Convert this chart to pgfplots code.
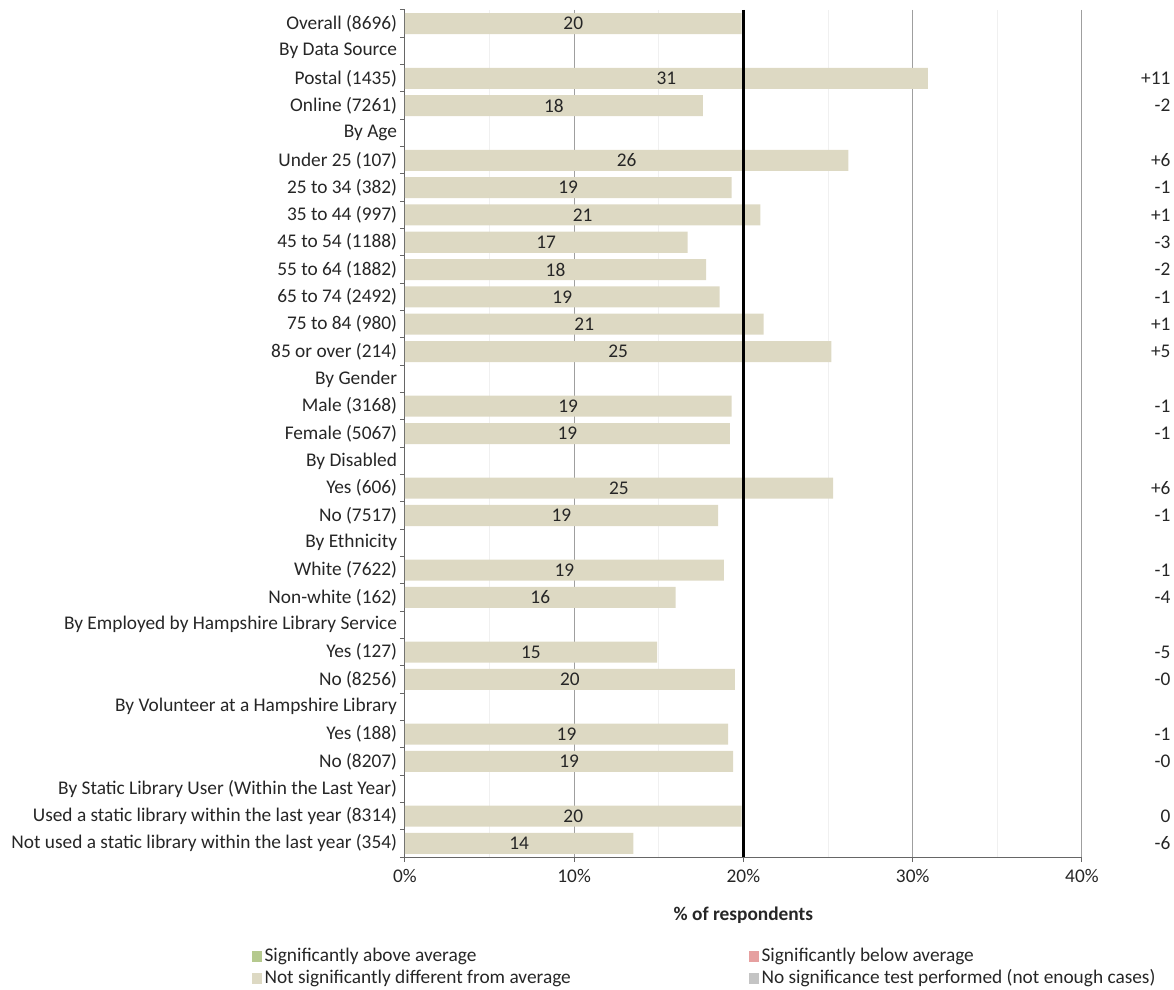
\documentclass[border=0pt]{standalone}
\usepackage{fontspec}
\setmainfont{Carlito}
\usepackage{pgfplots}
\usepackage{pgfplotstable}
\pgfplotsset{compat=1.18}
\definecolor{barc}{HTML}{DDD9C3}
\definecolor{gsig}{HTML}{B5C98E}
\definecolor{rsig}{HTML}{E6A0A0}
\definecolor{nsig}{HTML}{DDD9C3}
\definecolor{ntest}{HTML}{C4C4C4}
\definecolor{txt}{HTML}{262626}

\pgfplotstableread{
y v lab
0 19.9 20
2 30.9 31
3 17.6 18
5 26.2 26
6 19.3 19
7 21.0 21
8 16.7 17
9 17.8 18
10 18.6 19
11 21.2 21
12 25.2 25
14 19.3 19
15 19.2 19
17 25.3 25
18 18.5 19
20 18.85 19
21 16.0 16
23 14.9 15
24 19.5 20
26 19.1 19
27 19.4 19
29 19.9 20
30 13.5 14
}\bars

\pgfplotstableread{
y d
2 +11
3 -2
5 +6
6 -1
7 +1
8 -3
9 -2
10 -1
11 +1
12 +5
14 -1
15 -1
17 +6
18 -1
20 -1
21 -4
23 -5
24 -0
26 -1
27 -0
29 0
30 -6
}\diffs

\begin{document}
\fontsize{11.6}{14}\selectfont
\begin{tikzpicture}
\begin{axis}[
  scale only axis,
  width=406.2pt, height=508.2pt,
  xmin=0, xmax=40, ymin=-0.5, ymax=30.5,
  y dir=reverse,
  clip=false,
  axis x line*=bottom, axis y line*=left,
  axis line style={gray!80!black, line width=0.6pt},
  tick align=outside,
  major tick length=3pt,
  minor tick length=0pt,
  tick style={gray!80!black, line width=0.6pt},
  xtick={0,10,20,30,40},
  xticklabel={\pgfmathprintnumber{\tick}\%},
  /pgf/number format/assume math mode=true,
  minor x tick num=1,
  xmajorgrids, xminorgrids,
  major grid style={gray!75, line width=0.6pt},
  minor grid style={gray!12, line width=0.6pt},
  ytick={-0.5,0.5,...,30.5},
  yticklabels={Overall (8696),By Data Source,Postal (1435),Online (7261),By Age,Under 25 (107),25 to 34 (382),35 to 44 (997),45 to 54 (1188),55 to 64 (1882),65 to 74 (2492),75 to 84 (980),85 or over (214),By Gender,Male (3168),Female (5067),By Disabled,Yes (606),No (7517),By Ethnicity,White (7622),Non-white (162),By Employed by Hampshire Library Service,Yes (127),No (8256),By Volunteer at a Hampshire Library,Yes (188),No (8207),By Static Library User (Within the Last Year),Used a static library within the last year (8314),Not used a static library within the last year (354),{}},
  yticklabel style={yshift=-8.2pt, inner sep=0pt, xshift=-1.5pt, text=txt},
  xticklabel style={text=txt},
  ticklabel style={font=\fontsize{11.6}{14}\selectfont},
  xlabel={\textbf{\% of respondents}},
  xlabel style={at={(rel axis cs:0.5,-0.0685)}, anchor=center, text=txt, font=\fontsize{11.6}{14}\selectfont},
  legend columns=2,
  legend cell align=left,
  legend style={at={(rel axis cs:-0.226,-0.103)}, anchor=north west, draw=none, fill=none,
    inner sep=0pt, font=\fontsize{11.6}{14}\selectfont, text=txt,
    row sep=-1pt,
    /tikz/column 2/.style={column sep=105pt},
    nodes={inner xsep=2pt, inner ysep=2pt}},
]
\addplot[xbar, bar width=0.77, bar shift=0pt, fill=barc, draw=none, forget plot] table[x=v, y=y]{\bars};
\addplot[only marks, mark=none, forget plot, nodes near coords, point meta=explicit symbolic,
  every node near coord/.append style={anchor=center, text=txt, font=\fontsize{11.6}{14}\selectfont}]
  table[x expr=\thisrow{v}/2, y=y, meta=lab]{\bars};
\addplot[only marks, mark=none, forget plot, nodes near coords, point meta=explicit symbolic,
  every node near coord/.append style={anchor=east, inner xsep=0pt, text=txt, font=\fontsize{11.6}{14}\selectfont}]
  table[x expr=45.25, y=y, meta=d]{\diffs};
\addplot[black, line width=1.6pt, forget plot] coordinates {(20,-0.5) (20,30.5)};
\path (rel axis cs:-0.598,-0.1535) rectangle (rel axis cs:1.136,1.0118);
\addlegendimage{legend image code/.code={\fill[gsig] (0pt,-3.4pt) rectangle (5pt,2.6pt);}}
\addlegendentry{Significantly above average}
\addlegendimage{legend image code/.code={\fill[rsig] (0pt,-3.4pt) rectangle (5pt,2.6pt);}}
\addlegendentry{Significantly below average}
\addlegendimage{legend image code/.code={\fill[nsig] (0pt,-3.4pt) rectangle (5pt,2.6pt);}}
\addlegendentry{Not significantly different from average}
\addlegendimage{legend image code/.code={\fill[ntest] (0pt,-3.4pt) rectangle (5pt,2.6pt);}}
\addlegendentry{No significance test performed (not enough cases)}
\end{axis}
\end{tikzpicture}
\end{document}
